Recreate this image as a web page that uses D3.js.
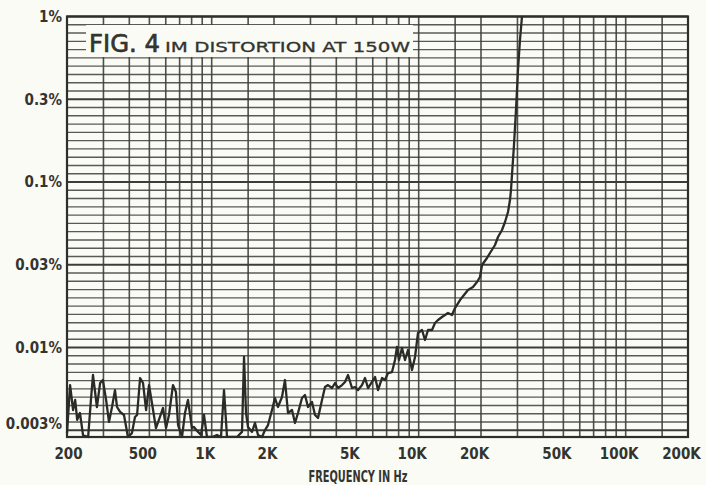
<!DOCTYPE html>
<html>
<head>
<meta charset="utf-8">
<script src="https://cdn.jsdelivr.net/npm/d3@7/dist/d3.min.js"></script>
<style>
  html, body { margin: 0; padding: 0; background: #fbfbf6; }
  svg { display: block; }
</style>
</head>
<body>
<script>
// ---- Data ----
const freqHz = [200,207,214,219,224,231,239,253,261,267,279,289,298,309,319,330,341,349,361,377,394,412,426,436,451,466,482,498,521,538,556,582,602,622,650,672,688,719,743,768,803,821,859,888,918,949,1004,1061,1109,1147,1186,1226,1325,1401,1433,1465,1498,1566,1619,1674,1750,1810,1871,1956,2022,2090,2186,2260,2337,2443,2526,2612,2731,2823,2919,3052,3156,3263,3412,3527,3647,3813,3943,4077,4263,4407,4557,4764,4926,5093,5325,5505,5692,5951,6153,6361,6650,6876,7109,7431,7683,7855,8033,8306,8589,8880,9283,9600,9925,10376,10729,11093,11597,11990,12397,12961,13401,13855,14486,14978,15836,17305,18298,19131,19780,20223,21380,22104,23372,24164,25263,26120,27006,27613,27920,28231,28547,28866,29516,30180,30856,31550];
const imdPct = [0.00304,0.00593,0.00419,0.00482,0.00365,0.00402,0.00296,0.00288,0.00482,0.00682,0.00437,0.00610,0.00636,0.00482,0.00355,0.00437,0.00553,0.00437,0.00408,0.00391,0.00288,0.00304,0.00380,0.00391,0.00654,0.00610,0.00419,0.00593,0.00419,0.00326,0.00365,0.00431,0.00326,0.00391,0.00593,0.00538,0.00340,0.00288,0.00402,0.00482,0.00326,0.00331,0.00309,0.00296,0.00391,0.00288,0.00288,0.00296,0.00288,0.00553,0.00288,0.00288,0.00288,0.00309,0.00876,0.00402,0.00331,0.00309,0.00350,0.00296,0.00288,0.00317,0.00340,0.00419,0.00495,0.00437,0.00502,0.00636,0.00402,0.00419,0.00350,0.00402,0.00495,0.00516,0.00437,0.00469,0.00391,0.00375,0.00482,0.00577,0.00593,0.00569,0.00610,0.00569,0.00593,0.00619,0.00682,0.00569,0.00577,0.00553,0.00593,0.00654,0.00569,0.00619,0.00663,0.00553,0.00654,0.00636,0.00701,0.00711,0.00840,0.01007,0.00840,0.00993,0.00840,0.00966,0.00731,0.00876,0.01224,0.01276,0.01110,0.01276,0.01276,0.01406,0.01466,0.01529,0.01572,0.01616,0.01572,0.01732,0.01936,0.02226,0.02320,0.02487,0.02667,0.03150,0.03474,0.03724,0.04163,0.04652,0.05129,0.05733,0.06588,0.07784,0.08947,0.1103,0.1358,0.1673,0.2723,0.4750,0.7211,1.0];

const xTickValues = [200,500,1000,2000,5000,10000,20000,50000,100000,200000];
const xTickLabels = ["200","500","1K","2K","5K","10K","20K","50K","100K","200K"];
const yTickValues = [1, 0.316, 0.1, 0.0316, 0.01, 0.00316];
const yTickLabels = ["1%","0.3%","0.1%","0.03%","0.01%","0.003%"];
const titleMain = "FIG. 4";
const titleSub = "IM DISTORTION AT 150W";
const xTitle = "FREQUENCY IN Hz";

// ---- Layout ----
const W = 706, H = 485;
const pLeft = 67, pRight = 688, pTop = 16.5, pBottom = 437;
const ink = "#34342f";
const gridInk = "#3c3c38";

const svg = d3.select("body").append("svg").attr("width", W).attr("height", H);

const x = d3.scaleLog().domain([200, 200000]).range([pLeft, pRight]);
const y = d3.scaleLog().domain([Math.pow(10, -(pBottom - pTop) / 165.5), 1]).range([pBottom, pTop]);

// vertical grid lines (log paper: 1,1.5,2..9 per decade)
const vLines = [];
[100, 1000, 10000, 100000].forEach(d => {
  [1, 1.5, 2, 3, 4, 5, 6, 7, 8, 9].forEach(m => {
    const v = d * m;
    if (v > 200 && v < 200000) vLines.push(v);
  });
});
// horizontal grid lines every 1 dB below 1%
const hLines = d3.range(0, 51).map(k => ({ v: Math.pow(10, -k / 20), k }));

const grid = svg.append("g");
grid.selectAll("line.h").data(hLines).join("line")
  .attr("x1", pLeft).attr("x2", pRight)
  .attr("y1", d => y(d.v)).attr("y2", d => y(d.v))
  .attr("stroke", gridInk)
  .attr("stroke-opacity", d => d.k % 10 === 0 ? 1 : 0.85)
  .attr("stroke-width", d => d.k % 10 === 0 ? 2.2 : 1.4);
grid.selectAll("line.v").data(vLines).join("line")
  .attr("x1", d => x(d)).attr("x2", d => x(d))
  .attr("y1", pTop).attr("y2", pBottom)
  .attr("stroke", gridInk)
  .attr("stroke-opacity", 0.9)
  .attr("stroke-width", 1.6);

// frame
svg.append("rect")
  .attr("x", pLeft).attr("y", pTop)
  .attr("width", pRight - pLeft).attr("height", pBottom - pTop)
  .attr("fill", "none").attr("stroke", "#2e2e2a").attr("stroke-width", 2.2);

// title box
svg.append("rect").attr("x", 86).attr("y", 25).attr("width", 327).attr("height", 32)
  .attr("fill", "#fbfbf6");
svg.append("text").attr("x", 89).attr("y", 52)
  .attr("font-family", "DejaVu Sans, sans-serif").attr("font-size", 25)
  .attr("fill", ink).attr("stroke", ink).attr("stroke-width", 0.7)
  .attr("textLength", 71).attr("lengthAdjust", "spacingAndGlyphs")
  .text(titleMain);
svg.append("text").attr("x", 165).attr("y", 52)
  .attr("font-family", "DejaVu Sans, sans-serif").attr("font-size", 14)
  .attr("fill", ink).attr("stroke", ink).attr("stroke-width", 0.3)
  .attr("textLength", 245).attr("lengthAdjust", "spacingAndGlyphs")
  .text(titleSub);

// data line
const pts = freqHz.map((f, i) => [f, imdPct[i]]).filter(d => d[1] !== undefined);
svg.append("path")
  .datum(pts)
  .attr("fill", "none")
  .attr("stroke", "#2a2a28")
  .attr("stroke-width", 2.3)
  .attr("stroke-linejoin", "round")
  .attr("d", d3.line().x(d => x(d[0])).y(d => y(d[1])));

// axes
const labelFont = "'Liberation Sans Narrow', 'DejaVu Sans Condensed', sans-serif";
const xAxis = svg.append("g").attr("transform", `translate(0,${pBottom})`)
  .call(d3.axisBottom(x).tickValues(xTickValues).tickFormat((d, i) => xTickLabels[i]).tickSize(0).tickPadding(11));
xAxis.select(".domain").remove();
xAxis.selectAll("text")
  .attr("font-family", labelFont).attr("font-size", 15).attr("font-weight", "bold").attr("fill", ink)
  .attr("dx", (d, i) => i === 0 ? 1 : -7);

const yAxis = svg.append("g").attr("transform", `translate(${pLeft},0)`)
  .call(d3.axisLeft(y).tickValues(yTickValues).tickFormat((d, i) => yTickLabels[i]).tickSize(0).tickPadding(5));
yAxis.select(".domain").remove();
yAxis.selectAll("text")
  .attr("font-family", labelFont).attr("font-size", 15).attr("font-weight", "bold").attr("fill", ink)
  .attr("dy", (d, i) => i === yTickValues.length - 1 ? "-0.1em" : "0.32em");

svg.append("text").attr("x", 358).attr("y", 482).attr("text-anchor", "middle")
  .attr("font-family", labelFont).attr("font-size", 15).attr("font-weight", "bold").attr("fill", ink)
  .attr("textLength", 99).attr("lengthAdjust", "spacingAndGlyphs")
  .text(xTitle);
</script>
</body>
</html>
